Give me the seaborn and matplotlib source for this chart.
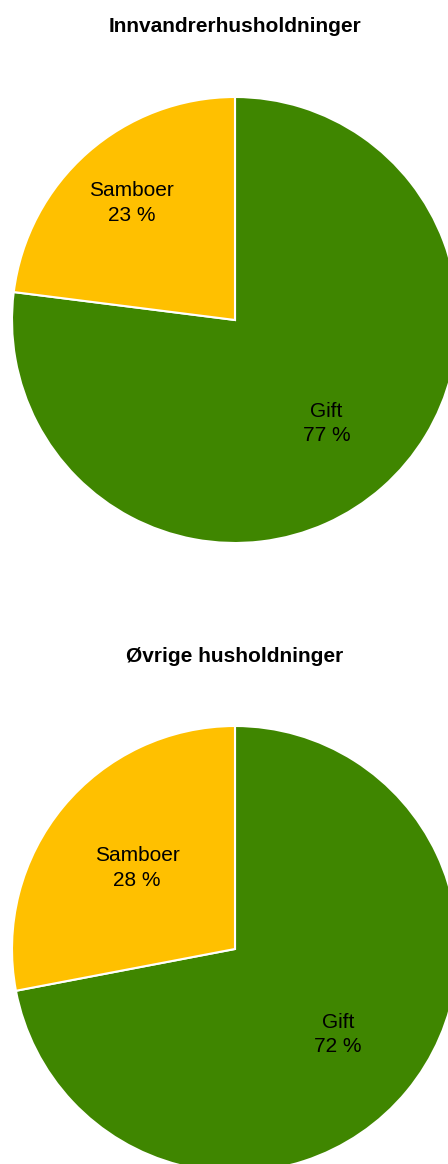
import numpy as np
import seaborn as sns
import matplotlib
matplotlib.use("Agg")
import matplotlib.pyplot as plt

# data
titles = ["Innvandrerhusholdninger", "Øvrige husholdninger"]
categories = ["Gift", "Samboer"]
innvandrer_share = [77, 23]
ovrige_share = [72, 28]
colors = ["#3f8600", "#ffc000"]

sns.set_theme(style="white")
plt.rcParams["font.family"] = ["Liberation Sans", "DejaVu Sans"]

W, H = 448, 1164
fig = plt.figure(figsize=(W / 100, H / 100), dpi=100)

# layout in pixels: pie centre x, centre y, radius, title y
layouts = [(235, 320, 223, 26), (235, 949, 223, 656)]
# label distances per slice (fraction of radius)
label_dist = [[0.62, 0.70], [0.60, 0.57]]

for values, title, (cx, cy, r, ty), dists in zip(
        [innvandrer_share, ovrige_share], titles, layouts, label_dist):
    ax = fig.add_axes([(cx - r) / W, (H - cy - r) / H, 2 * r / W, 2 * r / H])
    wedges, _ = ax.pie(values, colors=colors, startangle=90, counterclock=False,
                       radius=1, wedgeprops=dict(edgecolor="white", linewidth=1.5))
    for w, cat, val, d in zip(wedges, categories, values, dists):
        ang = np.deg2rad((w.theta1 + w.theta2) / 2)
        ax.text(d * np.cos(ang), d * np.sin(ang), f"{cat}\n{val} %",
                ha="center", va="center", fontsize=15, color="black",
                linespacing=1.35)
    ax.set_xlim(-1, 1)
    ax.set_ylim(-1, 1)
    ax.set_aspect("equal")
    ax.axis("off")
    fig.text(cx / W, 1 - ty / H, title, ha="center", va="center",
             fontsize=15, fontweight="bold", color="black")

fig.savefig("out.png", dpi=100)
